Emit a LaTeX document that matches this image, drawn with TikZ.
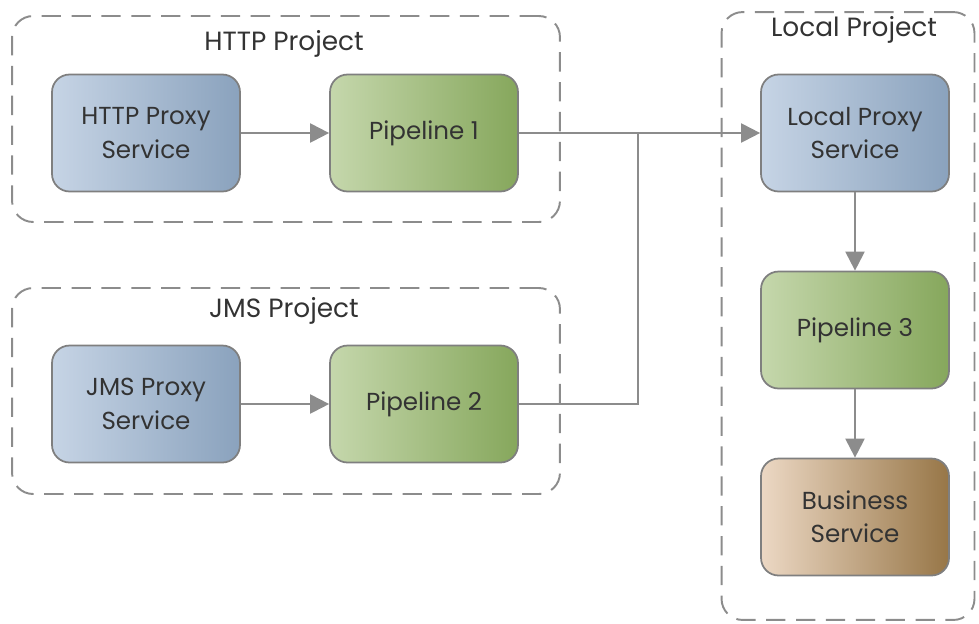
\documentclass[tikz,border=0pt]{standalone}
\usepackage{fontspec}
\setmainfont{Poppins}
\usetikzlibrary{arrows.meta, positioning, calc}

\definecolor{rahmen}{HTML}{7F7F7F}
\definecolor{strich}{HTML}{8C8C8C}
\definecolor{blauL}{HTML}{C6D4E5}
\definecolor{blauR}{HTML}{8AA2BD}
\definecolor{gruenL}{HTML}{C5D7AC}
\definecolor{gruenR}{HTML}{86A75C}
\definecolor{braunL}{HTML}{ECD8C4}
\definecolor{braunR}{HTML}{977647}
\definecolor{schrift}{HTML}{333333}

\begin{document}
\begin{tikzpicture}[
        x=0.02cm, y=-0.02cm,
        dienst/.style={
            rectangle,
            rounded corners=10pt,
            minimum width=3.76cm,
            minimum height=2.34cm,
            align=center,
            font=\fontsize{14}{19}\selectfont,
            text=schrift,
            draw=rahmen,
            line width=1pt
        },
        projekt/.style={
            rectangle,
            rounded corners=12pt,
            draw=strich,
            line width=1.1pt,
            dash pattern=on 11pt off 6pt
        },
        titel/.style={
            font=\fontsize{15}{18}\selectfont,
            text=schrift
        },
        pfeil/.style={-{Triangle[length=3.8mm, width=3.8mm]}, line width=1.2pt, draw=strich},
        linie/.style={line width=1.2pt, draw=strich}
    ]
        \useasboundingbox (0,0) rectangle (979,623);

        % Projektrahmen
        \node[projekt, minimum width=10.96cm, minimum height=4.12cm] (httpprj) at (286,119) {};
        \node[titel] (httpt) at (284,44) {HTTP Project};

        \node[projekt, minimum width=10.96cm, minimum height=4.12cm] (jmsprj) at (286,391) {};
        \node[titel] (jmst) at (284,311) {JMS Project};

        \node[projekt, minimum width=5.06cm, minimum height=12.16cm] (localprj) at (848,316) {};
        \node[titel] (localt) at (854,30) {Local Project};

        % Dienste
        \node[dienst, left color=blauL, right color=blauR] (httpproxy) at (146,133)
            {HTTP Proxy\\Service};
        \node[dienst, left color=gruenL, right color=gruenR] (pipe1) at (424,133)
            {Pipeline 1};

        \node[dienst, left color=blauL, right color=blauR] (jmsproxy) at (146,404)
            {JMS Proxy\\Service};
        \node[dienst, left color=gruenL, right color=gruenR] (pipe2) at (424,404)
            {Pipeline 2};

        \node[dienst, left color=blauL, right color=blauR] (localproxy) at (855,133)
            {Local Proxy\\Service};
        \node[dienst, left color=gruenL, right color=gruenR] (pipe3) at (855,330)
            {Pipeline 3};
        \node[dienst, left color=braunL, right color=braunR] (business) at (855,517)
            {Business\\Service};

        \coordinate (knoten) at (638,133);

        \draw[pfeil] (httpproxy.east) -- (pipe1.west);
        \draw[pfeil] (jmsproxy.east) -- (pipe2.west);
        \draw[pfeil] (pipe1.east) -- (localproxy.west);
        \draw[linie] (pipe2.east) -| (knoten);
        \draw[pfeil] (localproxy.south) -- (pipe3.north);
        \draw[pfeil] (pipe3.south) -- (business.north);
    \end{tikzpicture}
\end{document}
